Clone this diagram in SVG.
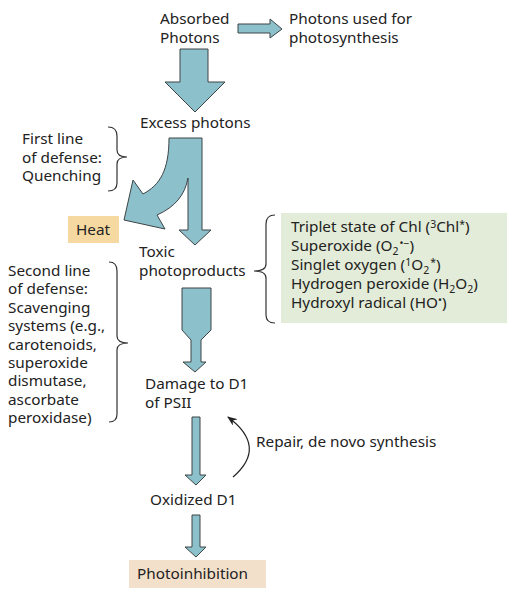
<svg xmlns="http://www.w3.org/2000/svg" width="515" height="599" viewBox="0 0 515 599">
<defs>
<style>
text{font-family:"Noto Sans","Open Sans",sans-serif;font-size:15.3px;fill:#222}
.arr{fill:#8cc0cb;stroke:#3d4447;stroke-width:1}
.brace{fill:none;stroke:#333;stroke-width:1.2}
.sub{font-size:10.5px}
</style>
<marker id="ah" viewBox="0 0 10 8" refX="9" refY="4" markerWidth="10" markerHeight="8" markerUnits="userSpaceOnUse" orient="auto">
<path d="M0,0 L10,4 L0,8 L3,4 Z" fill="#222"/>
</marker>
</defs>
<rect width="515" height="599" fill="#fff"/>

<g id="connectors">
<path class="arr" d="M238,24 H270 V19 L282,29 L270,38 V33 H238 Z"/>
<path class="arr" d="M180,49 H208 V82 H225 L195,112 L165,82 H180 Z"/>
<path class="arr" d="M169,138 H202 V230 H211 L195,245 L179,230 H188 V178 C185,195 175,207 157,215 L165,229 L124,220 L133,180 L143,194 C160,185 169,170 169,138 Z"/>
<path class="arr" d="M182,288 H211 V330 L201,340 V362 H206 L195,372 L183,362 H191 V340 L182,330 Z"/>
<path class="arr" d="M192,417 H200 V475 H206 L196,485 L185,475 H192 Z"/>
<path class="arr" d="M192,515 H200 V547 H206 L196,557 L185,547 H192 Z"/>
<path d="M233,477 Q268,447 228,417" fill="none" stroke="#222" stroke-width="1.2" marker-end="url(#ah)"/>
</g>

<g id="braces">
<path class="brace" d="M108,127 Q117,127 117,136 L117,150 Q117,157 127,157 Q117,157 117,164 L117,183 Q117,191 108,191"/>
<path class="brace" d="M109,262 Q117,262 117,271 L117,336 Q117,343 128,343 Q117,343 117,350 L117,414 Q117,422 109,422"/>
<path class="brace" d="M275,215 Q266,215 266,224 L266,264 Q266,271 254,271 Q266,271 266,278 L266,315 Q266,323 275,323"/>
</g>

<g id="absorbed"><text x="160" y="24">Absorbed</text><text x="160" y="43">Photons</text></g>
<g id="used"><text x="289" y="24">Photons used for</text><text x="289" y="43">photosynthesis</text></g>
<g id="excess"><text x="140" y="128">Excess photons</text></g>
<g id="first"><text x="22" y="144">First line</text><text x="22" y="162.5">of defense:</text><text x="22" y="181">Quenching</text></g>
<g id="heat"><rect x="68" y="216" width="51" height="27" fill="#f5d9a0"/><text x="76" y="235">Heat</text></g>
<g id="toxic"><text x="139" y="257">Toxic</text><text x="139" y="276">photoproducts</text></g>
<g id="species">
<rect x="281" y="213" width="226" height="110" fill="#e2ecd8"/>
<text x="291" y="232">Triplet state of Chl (<tspan class="sub" dy="-4">3</tspan><tspan dy="4">Chl</tspan><tspan class="sub" dy="-4">*</tspan><tspan dy="4">)</tspan></text>
<text x="291" y="251">Superoxide (O<tspan class="sub" dy="3.5">2</tspan><tspan class="sub" dx="1" dy="-8">•−</tspan><tspan dy="4.5">)</tspan></text>
<text x="291" y="270">Singlet oxygen (<tspan class="sub" dy="-4">1</tspan><tspan dy="4">O</tspan><tspan class="sub" dy="3.5">2</tspan><tspan class="sub" dx="1" dy="-8">*</tspan><tspan dy="4.5">)</tspan></text>
<text x="291" y="289">Hydrogen peroxide (H<tspan class="sub" dy="3.5">2</tspan><tspan dy="-3.5">O</tspan><tspan class="sub" dy="3.5">2</tspan><tspan dy="-3.5">)</tspan></text>
<text x="291" y="308">Hydroxyl radical (HO<tspan class="sub" dy="-4">•</tspan><tspan dy="4">)</tspan></text>
</g>
<g id="second">
<text x="8" y="276">Second line</text>
<text x="8" y="294.4">of defense:</text>
<text x="8" y="312.8">Scavenging</text>
<text x="8" y="331.2">systems (e.g.,</text>
<text x="8" y="349.6">carotenoids,</text>
<text x="8" y="368">superoxide</text>
<text x="8" y="386.4">dismutase,</text>
<text x="8" y="404.8">ascorbate</text>
<text x="8" y="423.2">peroxidase)</text>
</g>
<g id="damage"><text x="145" y="389">Damage to D1</text><text x="145" y="407.5">of PSII</text></g>
<g id="repair"><text x="256" y="447">Repair, de novo synthesis</text></g>
<g id="oxidized"><text x="150" y="505">Oxidized D1</text></g>
<g id="photoinhibition"><rect x="129" y="560" width="137" height="28" fill="#f3e0cb"/><text x="137" y="579">Photoinhibition</text></g>
</svg>
